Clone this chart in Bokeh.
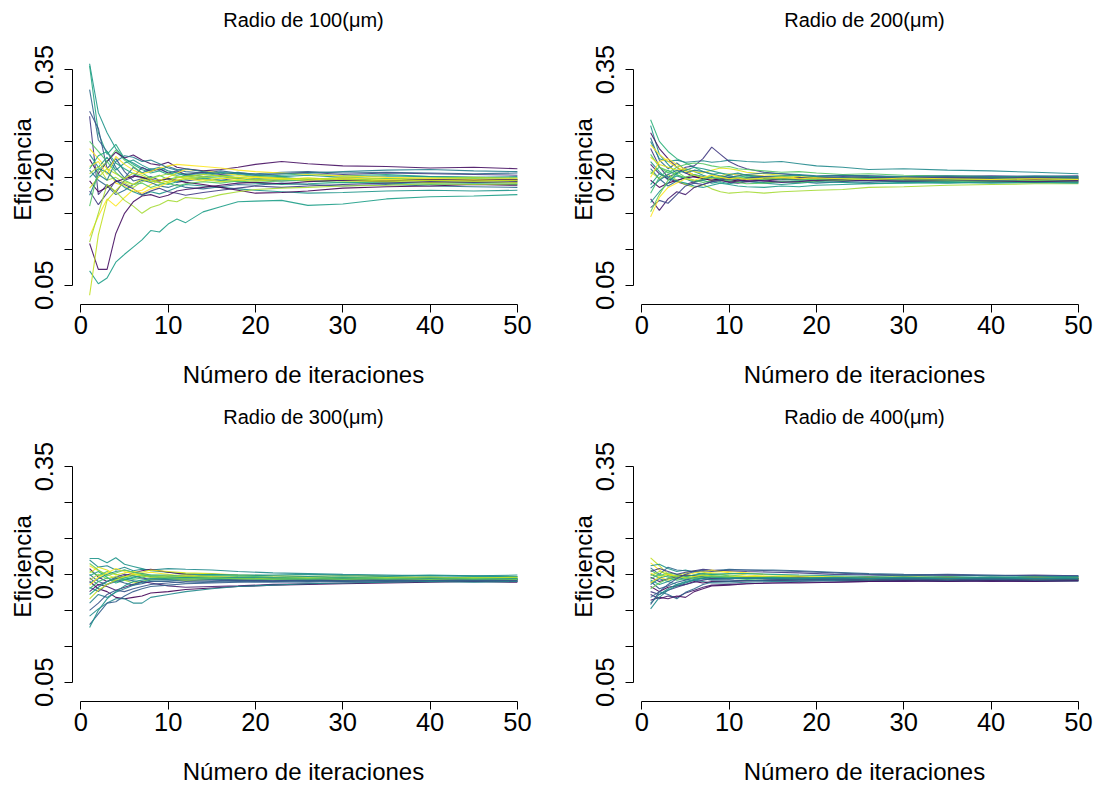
from bokeh.plotting import figure
from bokeh.layouts import column, row
from bokeh.models import Range1d, FixedTicker, ColumnDataSource, PrintfTickFormatter
from bokeh.palettes import viridis
from bokeh.embed import file_html
from bokeh.resources import INLINE

# ---------------- data ----------------
iter_a = [1, 2, 3, 4, 5, 6, 7, 8, 9, 10, 11, 12, 14, 16, 18, 20, 23, 26, 30, 35, 40, 45, 50]
iter_b = [1, 2, 3, 4, 5, 6, 7, 8, 10, 12, 15, 18, 22, 26, 30, 35, 40, 45, 50]

titles = ["Radio de 100(\u03bcm)", "Radio de 200(\u03bcm)", "Radio de 300(\u03bcm)", "Radio de 400(\u03bcm)"]
x_label = "Número de iteraciones"
y_label = "Eficiencia"
x_ticks = [0, 10, 20, 30, 40, 50]
y_ticks = [0.05, 0.20, 0.35]
y_minor = [0.10, 0.15, 0.25, 0.30]

eff_100 = [
    [0.358,0.290,0.262,0.240,0.226,0.220,0.213,0.209,0.212,0.206,0.203,0.205,0.201,0.203,0.199,0.198,0.200,0.197,0.199,0.198,0.196,0.197,0.196],
    [0.355,0.262,0.232,0.246,0.226,0.218,0.211,0.206,0.209,0.204,0.207,0.204,0.206,0.202,0.204,0.201,0.203,0.205,0.202,0.204,0.201,0.200,0.199],
    [0.322,0.252,0.236,0.214,0.199,0.214,0.206,0.212,0.210,0.215,0.211,0.208,0.206,0.209,0.206,0.205,0.207,0.208,0.206,0.207,0.206,0.205,0.206],
    [0.292,0.268,0.212,0.226,0.208,0.195,0.198,0.201,0.196,0.199,0.193,0.195,0.198,0.196,0.199,0.197,0.195,0.196,0.198,0.195,0.197,0.196,0.195],
    [0.285,0.176,0.190,0.179,0.196,0.200,0.214,0.208,0.212,0.206,0.209,0.204,0.207,0.204,0.206,0.203,0.205,0.207,0.204,0.206,0.205,0.204,0.203],
    [0.250,0.236,0.222,0.238,0.224,0.215,0.206,0.199,0.203,0.197,0.200,0.202,0.199,0.201,0.198,0.196,0.197,0.195,0.193,0.194,0.192,0.193,0.192],
    [0.240,0.226,0.212,0.192,0.188,0.180,0.182,0.190,0.196,0.200,0.206,0.211,0.209,0.206,0.203,0.200,0.198,0.199,0.197,0.196,0.195,0.196,0.195],
    [0.232,0.214,0.228,0.210,0.220,0.224,0.217,0.211,0.214,0.209,0.206,0.202,0.204,0.207,0.205,0.203,0.201,0.203,0.200,0.202,0.201,0.200,0.201],
    [0.225,0.205,0.222,0.235,0.227,0.231,0.224,0.219,0.217,0.221,0.214,0.212,0.209,0.211,0.214,0.218,0.222,0.219,0.216,0.215,0.213,0.214,0.212],
    [0.215,0.222,0.204,0.229,0.218,0.210,0.205,0.208,0.213,0.216,0.218,0.217,0.215,0.213,0.210,0.208,0.206,0.204,0.202,0.200,0.199,0.198,0.197],
    [0.212,0.230,0.236,0.220,0.212,0.205,0.200,0.195,0.193,0.190,0.194,0.197,0.199,0.196,0.194,0.192,0.190,0.191,0.193,0.192,0.190,0.191,0.190],
    [0.210,0.196,0.188,0.176,0.182,0.190,0.196,0.193,0.188,0.186,0.190,0.186,0.184,0.187,0.190,0.189,0.192,0.190,0.188,0.190,0.188,0.187,0.186],
    [0.205,0.215,0.196,0.200,0.192,0.186,0.194,0.198,0.202,0.205,0.201,0.199,0.201,0.198,0.200,0.197,0.199,0.197,0.200,0.198,0.199,0.200,0.199],
    [0.200,0.212,0.207,0.196,0.186,0.180,0.175,0.180,0.177,0.181,0.186,0.190,0.188,0.186,0.184,0.182,0.180,0.178,0.179,0.181,0.182,0.181,0.182],
    [0.195,0.180,0.186,0.194,0.198,0.202,0.200,0.197,0.195,0.198,0.196,0.193,0.190,0.186,0.182,0.178,0.179,0.181,0.185,0.187,0.188,0.190,0.189],
    [0.185,0.200,0.212,0.205,0.198,0.206,0.203,0.197,0.192,0.195,0.199,0.201,0.204,0.202,0.200,0.201,0.199,0.197,0.195,0.194,0.193,0.194,0.193],
    [0.181,0.162,0.178,0.196,0.190,0.184,0.176,0.181,0.185,0.180,0.178,0.175,0.179,0.182,0.185,0.188,0.186,0.188,0.190,0.192,0.194,0.193,0.194],
    [0.175,0.204,0.196,0.222,0.230,0.228,0.222,0.224,0.219,0.213,0.210,0.212,0.208,0.205,0.207,0.204,0.205,0.206,0.208,0.210,0.211,0.209,0.208],
    [0.160,0.210,0.222,0.207,0.196,0.190,0.192,0.186,0.190,0.192,0.188,0.191,0.194,0.192,0.195,0.193,0.195,0.197,0.196,0.198,0.197,0.198,0.197],
    [0.118,0.146,0.170,0.160,0.172,0.183,0.178,0.184,0.187,0.193,0.196,0.198,0.195,0.199,0.197,0.200,0.198,0.196,0.199,0.197,0.198,0.197,0.198],
    [0.110,0.150,0.190,0.180,0.168,0.160,0.150,0.158,0.162,0.168,0.166,0.172,0.170,0.176,0.180,0.183,0.185,0.186,0.188,0.189,0.191,0.190,0.191],
    [0.108,0.072,0.072,0.122,0.150,0.166,0.174,0.176,0.172,0.175,0.181,0.183,0.186,0.189,0.192,0.193,0.191,0.194,0.196,0.195,0.197,0.196,0.197],
    [0.070,0.052,0.060,0.082,0.093,0.103,0.113,0.126,0.124,0.135,0.142,0.137,0.152,0.159,0.166,0.167,0.168,0.161,0.163,0.170,0.173,0.174,0.176],
    [0.036,0.120,0.168,0.182,0.194,0.190,0.198,0.194,0.197,0.193,0.196,0.199,0.197,0.194,0.196,0.195,0.197,0.199,0.197,0.195,0.196,0.195,0.196],
]
col_100 = [12, 14, 8, 6, 4, 17, 23, 12, 1, 23, 14, 8, 20, 12, 0, 21, 4, 10, 17, 23, 20, 1, 13, 21]

eff_200 = [
    [0.280,0.250,0.236,0.226,0.220,0.214,0.208,0.204,0.206,0.202,0.200,0.202,0.199,0.201,0.200,0.198,0.199,0.200,0.198,0.199,0.198,0.199,0.198],
    [0.272,0.232,0.218,0.205,0.212,0.208,0.203,0.199,0.201,0.198,0.200,0.197,0.199,0.198,0.196,0.197,0.198,0.196,0.197,0.196,0.197,0.196,0.197],
    [0.262,0.240,0.226,0.214,0.206,0.201,0.198,0.196,0.198,0.200,0.198,0.197,0.195,0.197,0.199,0.198,0.197,0.199,0.198,0.200,0.199,0.198,0.199],
    [0.255,0.224,0.212,0.220,0.210,0.203,0.198,0.201,0.197,0.194,0.196,0.194,0.193,0.195,0.194,0.192,0.194,0.193,0.195,0.194,0.193,0.194,0.193],
    [0.250,0.226,0.222,0.224,0.221,0.222,0.223,0.221,0.222,0.224,0.223,0.222,0.221,0.222,0.219,0.216,0.214,0.211,0.212,0.210,0.209,0.207,0.205],
    [0.245,0.232,0.222,0.214,0.208,0.203,0.200,0.196,0.195,0.197,0.196,0.198,0.197,0.199,0.198,0.200,0.199,0.201,0.200,0.199,0.200,0.201,0.200],
    [0.240,0.215,0.200,0.206,0.214,0.216,0.226,0.242,0.232,0.222,0.216,0.212,0.207,0.205,0.203,0.201,0.203,0.202,0.200,0.201,0.202,0.201,0.202],
    [0.232,0.214,0.206,0.214,0.218,0.220,0.219,0.216,0.214,0.215,0.212,0.211,0.209,0.207,0.208,0.206,0.204,0.205,0.203,0.202,0.201,0.200,0.201],
    [0.228,0.218,0.214,0.210,0.212,0.208,0.206,0.210,0.213,0.212,0.210,0.207,0.205,0.203,0.201,0.200,0.198,0.197,0.198,0.196,0.197,0.196,0.197],
    [0.222,0.208,0.196,0.202,0.198,0.193,0.196,0.192,0.194,0.191,0.193,0.195,0.192,0.190,0.192,0.194,0.193,0.191,0.193,0.192,0.194,0.193,0.194],
    [0.218,0.205,0.198,0.194,0.190,0.194,0.197,0.199,0.196,0.194,0.192,0.194,0.196,0.198,0.197,0.195,0.197,0.198,0.197,0.199,0.198,0.199,0.198],
    [0.212,0.198,0.188,0.195,0.200,0.204,0.201,0.198,0.200,0.203,0.205,0.203,0.201,0.199,0.200,0.198,0.196,0.195,0.194,0.195,0.196,0.195,0.196],
    [0.208,0.198,0.204,0.196,0.190,0.186,0.190,0.184,0.180,0.178,0.179,0.180,0.178,0.180,0.181,0.182,0.183,0.186,0.187,0.189,0.190,0.191,0.191],
    [0.205,0.214,0.209,0.203,0.200,0.196,0.193,0.195,0.197,0.195,0.193,0.191,0.192,0.194,0.193,0.195,0.196,0.197,0.196,0.195,0.194,0.195,0.194],
    [0.200,0.222,0.226,0.218,0.210,0.203,0.200,0.198,0.202,0.205,0.203,0.204,0.202,0.201,0.199,0.198,0.199,0.197,0.198,0.197,0.198,0.199,0.198],
    [0.196,0.186,0.192,0.196,0.199,0.201,0.198,0.196,0.198,0.197,0.195,0.196,0.198,0.197,0.199,0.198,0.196,0.197,0.198,0.197,0.198,0.197,0.196],
    [0.190,0.205,0.200,0.195,0.192,0.188,0.186,0.189,0.192,0.190,0.188,0.187,0.186,0.188,0.187,0.189,0.190,0.191,0.192,0.193,0.192,0.193,0.192],
    [0.185,0.196,0.204,0.210,0.206,0.210,0.208,0.205,0.202,0.200,0.202,0.204,0.206,0.205,0.204,0.202,0.203,0.202,0.201,0.202,0.201,0.202,0.201],
    [0.178,0.200,0.210,0.204,0.198,0.195,0.197,0.200,0.198,0.196,0.198,0.200,0.199,0.197,0.196,0.198,0.199,0.198,0.199,0.197,0.198,0.199,0.198],
    [0.170,0.154,0.170,0.180,0.176,0.186,0.190,0.194,0.196,0.193,0.195,0.197,0.195,0.193,0.194,0.196,0.195,0.196,0.195,0.196,0.195,0.194,0.195],
    [0.165,0.180,0.192,0.206,0.210,0.214,0.212,0.209,0.206,0.204,0.206,0.203,0.201,0.202,0.203,0.201,0.200,0.201,0.200,0.199,0.200,0.201,0.200],
    [0.158,0.168,0.164,0.176,0.188,0.192,0.190,0.194,0.196,0.199,0.197,0.199,0.201,0.199,0.198,0.199,0.201,0.200,0.199,0.200,0.199,0.200,0.199],
    [0.152,0.176,0.196,0.208,0.200,0.204,0.199,0.203,0.201,0.198,0.200,0.198,0.197,0.199,0.198,0.197,0.196,0.198,0.197,0.196,0.197,0.196,0.197],
    [0.145,0.172,0.186,0.192,0.198,0.196,0.200,0.203,0.200,0.198,0.199,0.197,0.199,0.200,0.198,0.199,0.198,0.197,0.199,0.198,0.197,0.198,0.197],
]
col_200 = [15, 12, 1, 8, 11, 23, 4, 17, 22, 12, 2, 8, 20, 17, 23, 0, 13, 9, 16, 2, 12, 5, 18, 23]

eff_300 = [
    [0.222,0.222,0.216,0.223,0.214,0.211,0.208,0.205,0.203,0.201,0.200,0.199,0.199,0.200,0.199,0.198,0.199,0.198,0.199],
    [0.220,0.210,0.212,0.206,0.210,0.205,0.207,0.206,0.208,0.207,0.206,0.204,0.202,0.201,0.200,0.199,0.198,0.198,0.197],
    [0.212,0.205,0.200,0.194,0.196,0.199,0.201,0.203,0.200,0.197,0.195,0.193,0.194,0.193,0.192,0.193,0.192,0.193,0.192],
    [0.208,0.196,0.190,0.194,0.198,0.202,0.205,0.207,0.203,0.200,0.197,0.195,0.193,0.191,0.192,0.193,0.192,0.191,0.192],
    [0.205,0.198,0.204,0.200,0.196,0.193,0.195,0.198,0.196,0.197,0.198,0.197,0.196,0.197,0.195,0.196,0.195,0.196,0.195],
    [0.202,0.210,0.206,0.199,0.202,0.204,0.203,0.206,0.204,0.202,0.201,0.199,0.198,0.197,0.198,0.197,0.196,0.195,0.196],
    [0.200,0.190,0.186,0.190,0.193,0.191,0.188,0.190,0.191,0.192,0.190,0.191,0.190,0.189,0.190,0.191,0.190,0.191,0.190],
    [0.198,0.204,0.196,0.188,0.192,0.195,0.198,0.196,0.197,0.198,0.196,0.195,0.194,0.195,0.193,0.194,0.193,0.192,0.193],
    [0.195,0.185,0.190,0.196,0.200,0.198,0.195,0.193,0.194,0.195,0.194,0.192,0.191,0.192,0.193,0.192,0.193,0.192,0.193],
    [0.192,0.200,0.194,0.197,0.192,0.188,0.190,0.193,0.194,0.192,0.193,0.194,0.193,0.194,0.195,0.194,0.193,0.194,0.193],
    [0.190,0.180,0.176,0.168,0.166,0.168,0.170,0.174,0.176,0.179,0.181,0.183,0.185,0.186,0.187,0.188,0.189,0.190,0.189],
    [0.188,0.194,0.200,0.204,0.206,0.203,0.201,0.199,0.198,0.199,0.200,0.199,0.198,0.197,0.198,0.197,0.198,0.197,0.197],
    [0.185,0.196,0.202,0.208,0.204,0.201,0.199,0.197,0.198,0.199,0.197,0.196,0.196,0.195,0.194,0.195,0.194,0.195,0.194],
    [0.182,0.176,0.186,0.192,0.188,0.185,0.187,0.190,0.190,0.188,0.189,0.190,0.189,0.190,0.191,0.190,0.191,0.190,0.191],
    [0.180,0.190,0.195,0.191,0.195,0.198,0.196,0.199,0.199,0.197,0.198,0.198,0.196,0.195,0.196,0.195,0.196,0.195,0.196],
    [0.176,0.186,0.183,0.178,0.182,0.186,0.190,0.188,0.184,0.182,0.183,0.184,0.186,0.187,0.188,0.189,0.190,0.191,0.190],
    [0.172,0.182,0.190,0.195,0.193,0.196,0.199,0.197,0.194,0.195,0.194,0.194,0.195,0.193,0.194,0.193,0.194,0.193,0.194],
    [0.166,0.178,0.186,0.192,0.197,0.200,0.198,0.196,0.196,0.197,0.196,0.195,0.194,0.195,0.194,0.195,0.196,0.195,0.196],
    [0.160,0.172,0.168,0.175,0.180,0.185,0.189,0.192,0.193,0.194,0.193,0.192,0.193,0.192,0.193,0.192,0.193,0.192,0.193],
    [0.150,0.160,0.172,0.178,0.176,0.180,0.183,0.186,0.188,0.190,0.191,0.192,0.191,0.192,0.193,0.192,0.193,0.192,0.192],
    [0.142,0.152,0.160,0.166,0.166,0.160,0.160,0.168,0.172,0.176,0.180,0.183,0.185,0.187,0.188,0.189,0.190,0.189,0.190],
    [0.130,0.145,0.160,0.162,0.170,0.176,0.180,0.183,0.185,0.187,0.188,0.189,0.190,0.191,0.190,0.191,0.192,0.191,0.192],
    [0.126,0.150,0.166,0.176,0.184,0.190,0.192,0.194,0.195,0.196,0.195,0.196,0.195,0.194,0.195,0.194,0.195,0.194,0.194],
    [0.215,0.206,0.198,0.202,0.206,0.203,0.200,0.198,0.195,0.194,0.195,0.194,0.193,0.194,0.193,0.194,0.193,0.194,0.193],
]
col_300 = [12, 11, 23, 1, 17, 22, 8, 14, 4, 20, 0, 12, 23, 7, 16, 2, 13, 21, 10, 6, 11, 7, 12, 18]

eff_400 = [
    [0.223,0.212,0.200,0.198,0.202,0.205,0.203,0.201,0.199,0.197,0.196,0.197,0.196,0.195,0.196,0.195,0.196,0.195,0.195],
    [0.216,0.206,0.198,0.194,0.196,0.199,0.201,0.203,0.204,0.202,0.199,0.198,0.197,0.196,0.197,0.196,0.195,0.196,0.195],
    [0.212,0.214,0.208,0.204,0.206,0.203,0.200,0.198,0.196,0.195,0.194,0.193,0.194,0.193,0.194,0.193,0.194,0.193,0.194],
    [0.209,0.200,0.210,0.206,0.205,0.204,0.206,0.205,0.207,0.206,0.206,0.205,0.203,0.201,0.200,0.199,0.198,0.198,0.197],
    [0.206,0.198,0.202,0.200,0.197,0.199,0.198,0.200,0.198,0.197,0.197,0.196,0.195,0.196,0.195,0.196,0.195,0.196,0.195],
    [0.204,0.208,0.204,0.200,0.203,0.205,0.207,0.206,0.205,0.204,0.203,0.202,0.200,0.199,0.198,0.199,0.198,0.199,0.198],
    [0.202,0.196,0.192,0.195,0.199,0.202,0.204,0.206,0.202,0.199,0.197,0.196,0.195,0.194,0.193,0.194,0.193,0.194,0.193],
    [0.200,0.195,0.198,0.196,0.193,0.195,0.197,0.196,0.194,0.195,0.194,0.193,0.192,0.191,0.192,0.191,0.192,0.191,0.191],
    [0.198,0.204,0.200,0.197,0.199,0.197,0.195,0.196,0.197,0.196,0.197,0.196,0.196,0.195,0.194,0.195,0.194,0.195,0.194],
    [0.196,0.190,0.194,0.197,0.199,0.198,0.196,0.194,0.194,0.195,0.195,0.196,0.195,0.196,0.195,0.196,0.195,0.196,0.196],
    [0.194,0.200,0.196,0.192,0.194,0.196,0.198,0.197,0.195,0.193,0.194,0.194,0.193,0.192,0.193,0.192,0.193,0.192,0.193],
    [0.192,0.186,0.190,0.195,0.197,0.199,0.201,0.200,0.201,0.201,0.200,0.199,0.198,0.197,0.198,0.197,0.198,0.197,0.197],
    [0.190,0.180,0.184,0.189,0.192,0.195,0.194,0.192,0.192,0.191,0.191,0.192,0.191,0.190,0.191,0.192,0.191,0.192,0.191],
    [0.188,0.196,0.200,0.197,0.195,0.197,0.199,0.198,0.196,0.197,0.196,0.196,0.195,0.196,0.195,0.196,0.195,0.196,0.195],
    [0.186,0.194,0.190,0.186,0.189,0.192,0.190,0.188,0.188,0.189,0.190,0.190,0.191,0.190,0.191,0.190,0.191,0.190,0.191],
    [0.183,0.176,0.182,0.184,0.186,0.190,0.188,0.190,0.190,0.191,0.192,0.193,0.193,0.192,0.193,0.192,0.193,0.192,0.193],
    [0.180,0.188,0.194,0.198,0.196,0.194,0.196,0.198,0.196,0.195,0.195,0.194,0.195,0.194,0.195,0.194,0.195,0.194,0.194],
    [0.176,0.172,0.178,0.182,0.186,0.189,0.192,0.194,0.194,0.195,0.194,0.195,0.194,0.195,0.194,0.195,0.194,0.195,0.194],
    [0.172,0.166,0.170,0.168,0.174,0.178,0.182,0.185,0.186,0.187,0.188,0.189,0.189,0.190,0.190,0.191,0.190,0.191,0.191],
    [0.168,0.176,0.172,0.166,0.175,0.180,0.186,0.189,0.190,0.191,0.192,0.193,0.193,0.192,0.193,0.192,0.193,0.192,0.192],
    [0.164,0.168,0.166,0.170,0.168,0.176,0.180,0.184,0.185,0.187,0.188,0.188,0.189,0.190,0.191,0.190,0.191,0.190,0.191],
    [0.160,0.172,0.180,0.186,0.190,0.193,0.195,0.196,0.196,0.195,0.196,0.195,0.196,0.195,0.196,0.195,0.196,0.195,0.196],
    [0.152,0.168,0.178,0.184,0.188,0.192,0.194,0.193,0.194,0.195,0.194,0.194,0.195,0.194,0.195,0.194,0.195,0.194,0.194],
    [0.158,0.176,0.186,0.194,0.200,0.204,0.205,0.204,0.206,0.206,0.205,0.204,0.202,0.200,0.199,0.200,0.199,0.198,0.198],
]
col_400 = [21, 23, 12, 8, 17, 4, 23, 11, 20, 1, 16, 13, 7, 22, 10, 0, 18, 4, 2, 8, 1, 12, 11, 6]

# ---------------- styling ----------------
PALETTE = viridis(24)
FONT = "Liberation Sans"


def make_panel(title, xs, series, cols, right_border, bottom_border):
    # frame spans 270 px; 0.35 sits 35 px below its top, 0.05 sits 19 px above its bottom
    p = figure(
        frame_width=462, frame_height=270,
        x_range=Range1d(-0.96, 51.96), y_range=Range1d(0.02316, 0.39868),
        output_backend="svg", toolbar_location=None,
        min_border_left=72, min_border_top=34,
        min_border_right=right_border, min_border_bottom=bottom_border,
        x_axis_label=x_label, y_axis_label=y_label,
    )
    p.outline_line_color = None
    p.xgrid.visible = False
    p.ygrid.visible = False
    p.background_fill_color = "white"
    p.border_fill_color = "white"

    src = ColumnDataSource(dict(
        xs=[xs] * len(series),
        ys=series,
        color=[PALETTE[c] for c in cols],
    ))
    p.multi_line("xs", "ys", source=src, line_color="color", line_width=1.1, line_alpha=0.9)

    p.title.text = title
    p.title.align = "center"
    p.title.text_font = FONT
    p.title.text_font_size = "20px"
    p.title.text_font_style = "normal"
    p.title.text_color = "black"
    p.title.standoff = 8

    for ax in (p.xaxis[0], p.yaxis[0]):
        ax.axis_line_color = "black"
        ax.axis_line_width = 1
        ax.major_tick_out = 8
        ax.major_tick_in = 0
        ax.major_tick_line_color = "black"
        ax.minor_tick_out = 8
        ax.minor_tick_in = 0
        ax.minor_tick_line_color = "black"
        ax.major_label_text_font = FONT
        ax.major_label_text_font_size = "25.5px"
        ax.major_label_text_color = "black"
        ax.axis_label_text_font = FONT
        ax.axis_label_text_font_size = "24px"
        ax.axis_label_text_font_style = "normal"
        ax.axis_label_text_color = "black"

    p.xaxis.ticker = FixedTicker(ticks=x_ticks, minor_ticks=[])
    p.xaxis.bounds = (0, 50)
    p.xaxis.major_label_standoff = 3
    p.xaxis.axis_label_standoff = 24

    p.yaxis.ticker = FixedTicker(ticks=y_ticks, minor_ticks=y_minor)
    p.yaxis.bounds = (0.05, 0.35)
    p.yaxis.major_label_orientation = "vertical"
    p.yaxis.major_label_standoff = 11
    p.yaxis.axis_label_standoff = -3
    p.yaxis.formatter = PrintfTickFormatter(format="%.2f")
    return p


p1 = make_panel(titles[0], iter_a, eff_100, col_100, 27, 93)
p2 = make_panel(titles[1], iter_a, eff_200, col_200, 3, 93)
p3 = make_panel(titles[2], iter_b, eff_300, col_300, 27, 85)
p4 = make_panel(titles[3], iter_b, eff_400, col_400, 3, 85)

layout = column(row(p1, p2), row(p3, p4))

open("out.html", "w").write(file_html(layout, INLINE))
